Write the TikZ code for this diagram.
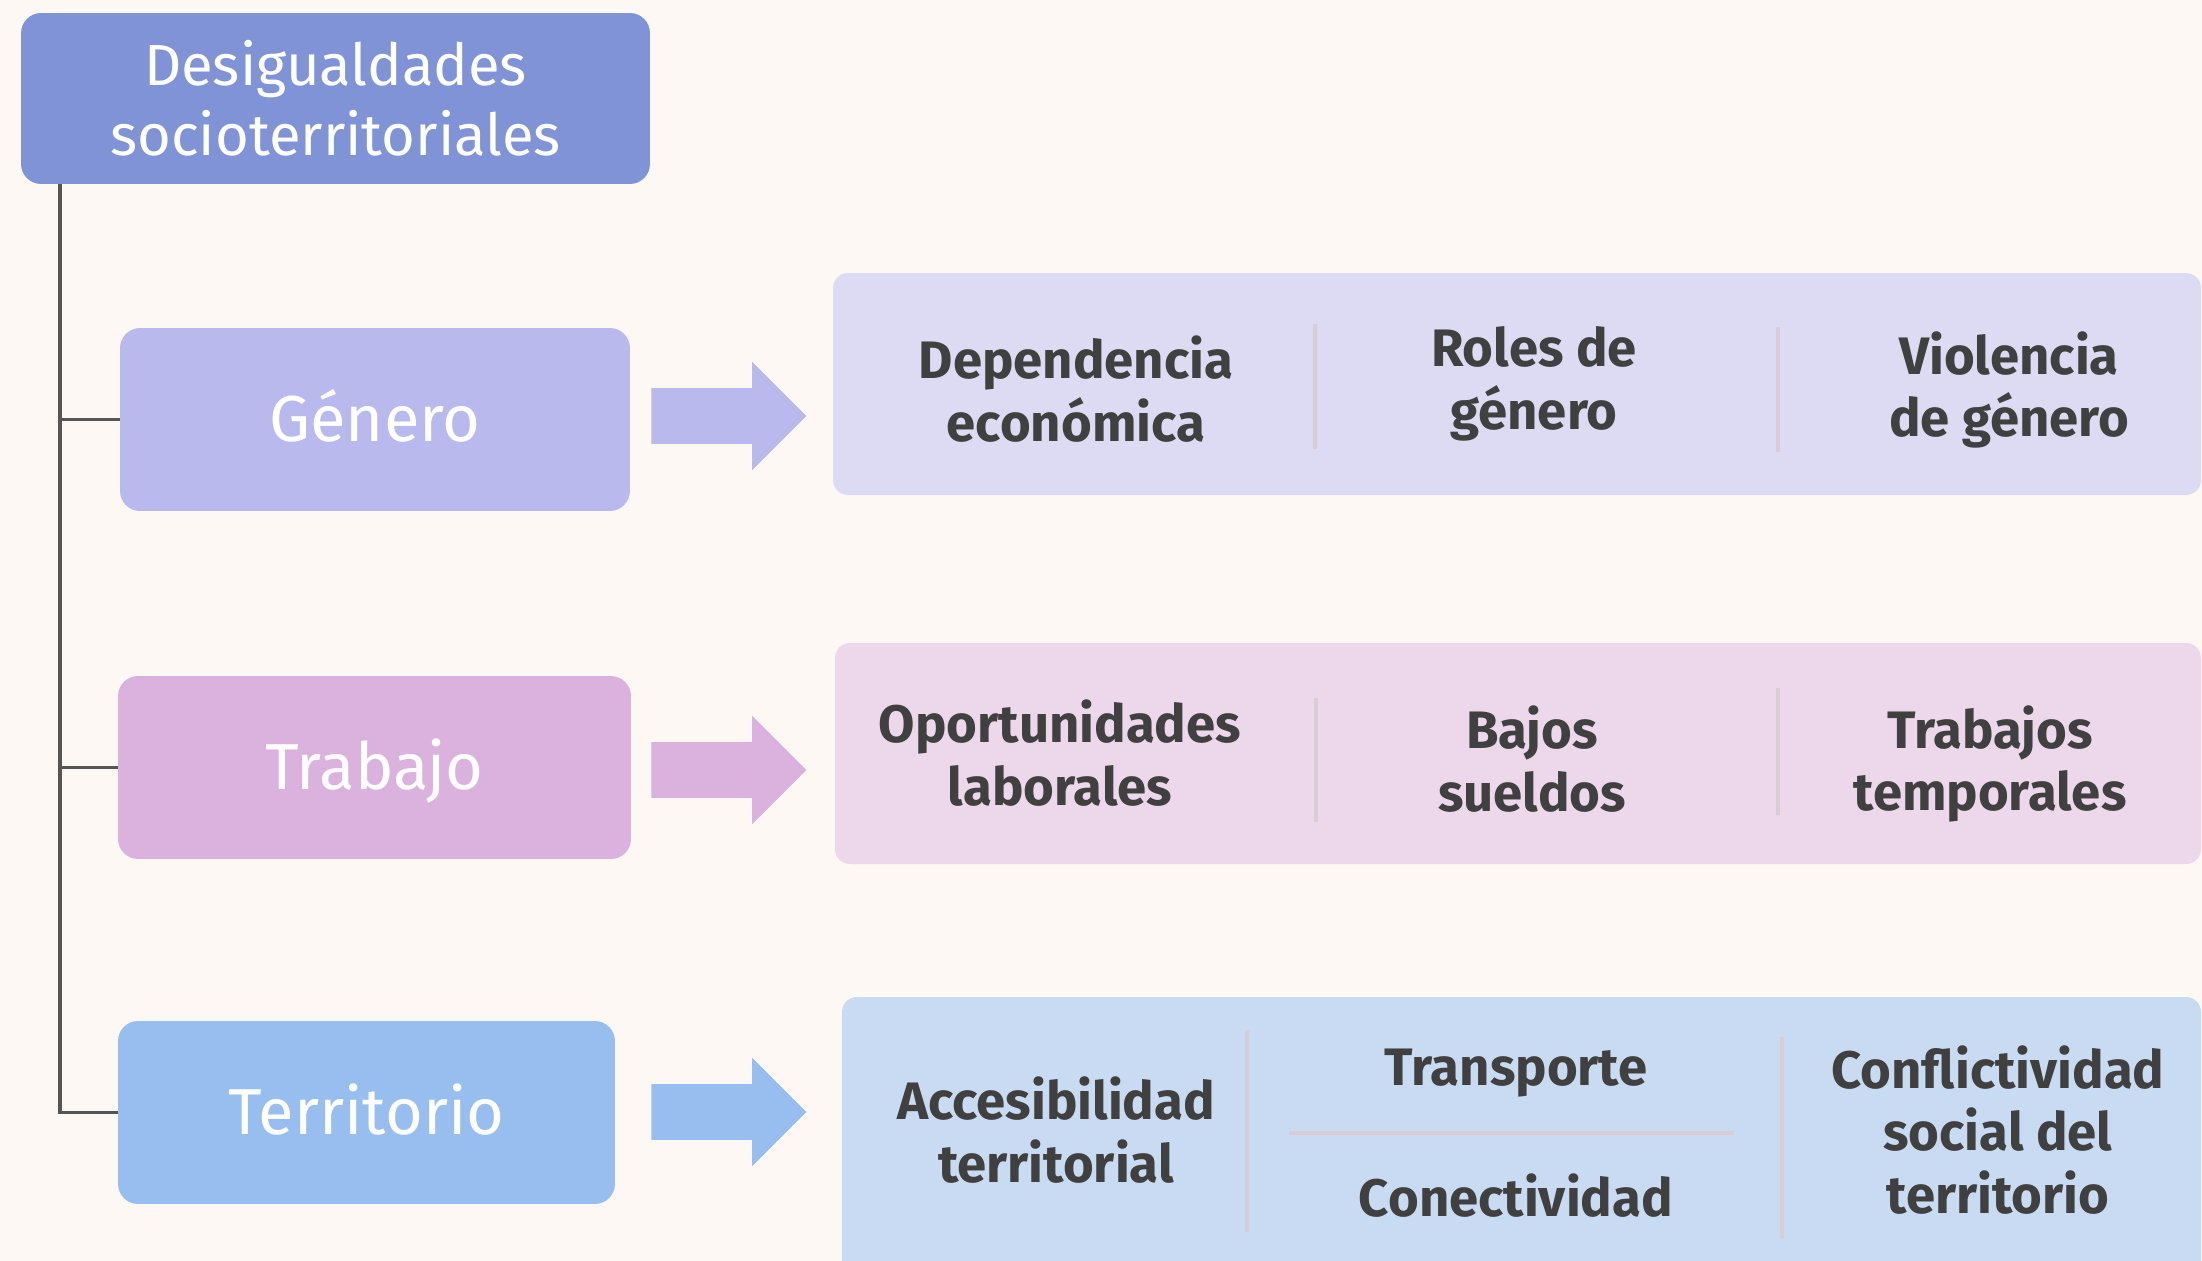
\documentclass[tikz,border=0pt]{standalone}
\usepackage{fontspec}
\setmainfont{Fira Sans}
\usepackage{tikz}
\usetikzlibrary{shapes.arrows}
\definecolor{bgcream}{HTML}{FDF8F4}
\definecolor{titleblue}{HTML}{7F93D6}
\definecolor{genlila}{HTML}{B9B9ED}
\definecolor{trabrosa}{HTML}{DBB2DE}
\definecolor{terrazul}{HTML}{97BEEF}
\definecolor{genpanel}{HTML}{DCDBF3}
\definecolor{trabpanel}{HTML}{EDD7EB}
\definecolor{terrpanel}{HTML}{C9DBF2}
\definecolor{sepgray}{HTML}{D9CCD3}
\definecolor{inkgray}{HTML}{404040}
\definecolor{linegray}{HTML}{555555}

\begin{document}
\begin{tikzpicture}[x=0.02cm,y=-0.02cm,
  catbox/.style={rounded corners=0.4cm, minimum height=3.66cm, text=white, font=\fontsize{37}{44}\selectfont, text height=25.5pt, text depth=0pt},
  fatarrow/.style={single arrow, minimum height=3.1cm, minimum width=2.16cm, single arrow head extend=0.53cm, inner xsep=0pt, inner ysep=0.55cm},
  item/.style={align=center, text=inkgray, font=\bfseries\fontsize{30}{35.5}\selectfont},
  sepline/.style={sepgray, line width=1.8pt},
  trunkline/.style={linegray, line width=2.2pt}]
\fill[bgcream] (0,0) rectangle (2202,1261);
\useasboundingbox (0,0) rectangle (2202,1261);
\clip (0,0) rectangle (2202,1261);

% left column
\node[rounded corners=0.4cm, fill=titleblue, text=white, minimum width=12.58cm, minimum height=3.42cm, align=center,
  font=\fontsize{33}{40}\selectfont] (title) at (335.5,98.5) {Desigualdades\\socioterritoriales};
\node[catbox, fill=genlila, minimum width=10.2cm] (genero) at (375,419.5) {Género};
\node[catbox, fill=trabrosa, minimum width=10.26cm] (trabajo) at (374.5,767.5) {Trabajo};
\node[catbox, fill=terrazul, minimum width=9.94cm] (territorio) at (366.5,1112.5) {Territorio};

\coordinate (trunk) at (60,184);
\draw[trunkline] (trunk) |- (territorio.west);
\draw[trunkline] (trunk |- genero.west) -- (genero.west);
\draw[trunkline] (trunk |- trabajo.west) -- (trabajo.west);

% arrows
\node[fatarrow, fill=genlila] (agen) at (715,416) {};
\node[fatarrow, fill=trabrosa] (atrab) at (715,770) {};
\node[fatarrow, fill=terrazul] (aterr) at (715,1112) {};

% panels
\fill[genpanel, rounded corners=0.3cm] (833,273) rectangle (2201,495);
\fill[trabpanel, rounded corners=0.3cm] (835,643) rectangle (2201,864);
\fill[terrpanel, rounded corners=0.3cm] (842,997) rectangle (2201,1300);

% genero row
\draw[sepline] (1315,324) -- (1315,449);
\draw[sepline] (1778,327) -- (1778,452);
\node[item] (depend) at (1076,389) {Dependencia\\económica};
\node[item] (roles) at (1534,384) {Roles de\\género};
\node[item] (violen) at (2009,390) {Violencia\\de género};

% trabajo row
\draw[sepline] (1316,698) -- (1316,822);
\draw[sepline] (1778,688) -- (1778,815);
\node[item] (oportu) at (1060,753) {Oportunidades\\laborales};
\node[item] (bajos) at (1532,759) {Bajos\\sueldos};
\node[item] (tempor) at (1990,764) {Trabajos\\temporales};

% territorio row
\draw[sepline] (1247,1030) -- (1247,1232);
\draw[sepline] (1782,1037) -- (1782,1238);
\draw[sepline] (1289,1133) -- (1734,1133);
\node[item] (acces) at (1056,1130) {Accesibilidad\\territorial};
\node[item] (transp) at (1516,1073) {Transporte};
\node[item] (conect) at (1516,1196) {Conectividad};
\node[item] (conflic) at (1998,1130) {Conflictividad\\social del\\territorio};
\end{tikzpicture}
\end{document}
